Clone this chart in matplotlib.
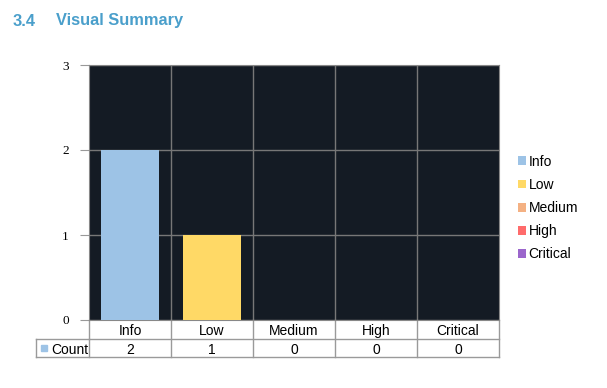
import matplotlib.pyplot as plt
from matplotlib.patches import Patch

# data
categories = ['Info', 'Low', 'Medium', 'High', 'Critical']
counts = [2, 1, 0, 0, 0]
colors = ['#9dc3e6', '#ffd966', '#f4b183', '#ff6b6b', '#9b66cc']
yticks = [0, 1, 2, 3]
series_name = 'Count'

plt.rcParams['font.family'] = ['Liberation Sans', 'DejaVu Sans']

fig = plt.figure(figsize=(6.07, 3.88), dpi=100)
ax = fig.add_axes([89/607, 68/388, 410/607, 255/388])
ax.set_facecolor('#141b24')

n = len(categories)
x = range(n)
ax.bar(x, counts, width=0.71, color=colors, zorder=3)
ax.set_xlim(-0.5, n - 0.5)
ax.set_ylim(0, 3)

# grid: horizontal at ticks, vertical at category boundaries
ax.set_yticks(yticks)
ax.set_yticklabels([str(t) for t in yticks], family='Liberation Serif', fontsize=9.5)
ax.tick_params(axis='y', length=6.5, color='#999999', pad=8)
ax.grid(axis='y', color='#777777', linewidth=1, zorder=1)
for b in [i + 0.5 for i in x][:-1]:
    ax.axvline(b, color='#777777', linewidth=1, zorder=1)
ax.set_xticks([])
for s in ax.spines.values():
    s.set_color('#888888')

# data table underneath (axes coords)
lab_w = 53/410
r1 = -19/255
r2 = -37/255
tc = '#9a9a9a'
kw = dict(transform=ax.transAxes, clip_on=False, color=tc, linewidth=1)
ax.plot([0, 1], [r1, r1], **kw)
ax.plot([-lab_w, 1], [r2, r2], **kw)
ax.plot([-lab_w, 0], [r1, r1], **kw)
ax.plot([-lab_w, -lab_w], [r1, r2], **kw)
for i in range(n + 1):
    ax.plot([i / n, i / n], [0, r2], **kw)
for i, (cat, c) in enumerate(zip(categories, counts)):
    xc = (i + 0.5) / n
    ax.text(xc, r1 / 2, cat, transform=ax.transAxes, ha='center',
            va='center_baseline', fontsize=10)
    ax.text(xc, (r1 + r2) / 2, str(c), transform=ax.transAxes, ha='center',
            va='center_baseline', fontsize=10)
ax.plot([-45/410], [(r1 + r2) / 2], marker='s', markersize=5, color=colors[0],
        transform=ax.transAxes, clip_on=False, zorder=10)
ax.text(-38/410, (r1 + r2) / 2, series_name, transform=ax.transAxes,
        ha='left', va='center_baseline', fontsize=10)

# legend
handles = [Patch(facecolor=c, label=l) for c, l in zip(colors, categories)]
fig.legend(handles=handles, loc='center left', bbox_to_anchor=(505/607, 1 - 208/388),
           frameon=False, fontsize=10, handlelength=0.6, handleheight=0.6,
           handletextpad=0.2, labelspacing=0.66)

title_kw = dict(fontsize=11.8, fontweight='bold', color='#4a9fcb', va='center', ha='left')
fig.text(13/607, 1 - 21/388, '3.4', **title_kw)
fig.text(56/607, 1 - 21/388, 'Visual Summary', **title_kw)

fig.savefig('out.png', dpi=100)
